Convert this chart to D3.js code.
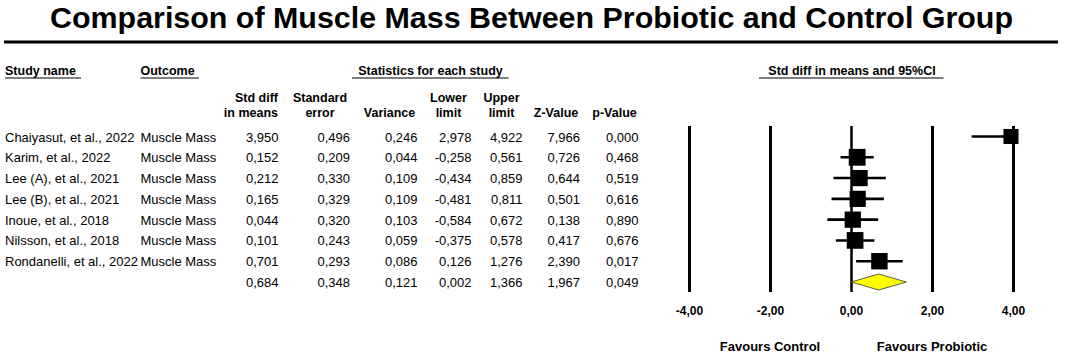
<!DOCTYPE html>
<html>
<head>
<meta charset="utf-8">
<script src="https://cdn.jsdelivr.net/npm/d3@7"></script>
<style>
  body { margin: 0; background: #fff; }
  svg { display: block; font-family: "Liberation Sans", Arial, sans-serif; }
</style>
</head>
<body>
<svg id="forest" width="1065" height="355"></svg>
<script>
// study rows
var studies = ['Chaiyasut, et al., 2022', 'Karim, et al., 2022', 'Lee (A), et al., 2021', 'Lee (B), et al., 2021',
  'Inoue, et al., 2018', 'Nilsson, et al., 2018', 'Rondanelli, et al., 2022']
var outcomes = ['Muscle Mass', 'Muscle Mass', 'Muscle Mass', 'Muscle Mass', 'Muscle Mass', 'Muscle Mass', 'Muscle Mass']
var stdDiff = [3.950, 0.152, 0.212, 0.165, 0.044, 0.101, 0.701]
var stdErr = [0.496, 0.209, 0.330, 0.329, 0.320, 0.243, 0.293]
var variance = [0.246, 0.044, 0.109, 0.109, 0.103, 0.059, 0.086]
var lower = [2.978, -0.258, -0.434, -0.481, -0.584, -0.375, 0.126]
var upper = [4.922, 0.561, 0.859, 0.811, 0.672, 0.578, 1.276]
var zValue = [7.966, 0.726, 0.644, 0.501, 0.138, 0.417, 2.390]
var pValue = [0.000, 0.468, 0.519, 0.616, 0.890, 0.676, 0.017]
var weights = [12.3, 15.3, 14.2, 14.2, 14.3, 15.1, 14.6]
// pooled row
var summary = {stdDiff: 0.684, stdErr: 0.348, variance: 0.121, lower: 0.002, upper: 1.366, zValue: 1.967, pValue: 0.049}
var axisTicks = [-4, -2, 0, 2, 4]

var loc = d3.formatLocale({decimal: ',', thousands: '.', grouping: [3], currency: ['', ''], minus: '-'})
var f3 = loc.format('.3f'), f2 = loc.format('.2f')

var svg = d3.select('#forest')
var ink = '#000'

// title + rule
svg.append('text')
  .attr('x', 531.5).attr('y', 27.5)
  .attr('text-anchor', 'middle')
  .attr('font-size', 29).attr('font-weight', 'bold')
  .attr('textLength', 963).attr('lengthAdjust', 'spacingAndGlyphs')
  .text('Comparison of Muscle Mass Between Probiotic and Control Group')
svg.append('line').attr('x1', 4).attr('x2', 1058).attr('y1', 42).attr('y2', 42)
  .attr('stroke', ink).attr('stroke-width', 3)

// section headers
var heads = [
  {t: 'Study name', x: 5, x1: 5, x2: 81, anchor: 'start'},
  {t: 'Outcome', x: 140.5, x1: 140.5, x2: 199, anchor: 'start'},
  {t: 'Statistics for each study', x: 430.5, x1: 352, x2: 508.5, anchor: 'middle'},
  {t: 'Std diff in means and 95%CI', x: 852, x1: 759, x2: 943.5, anchor: 'middle'}
]
var hg = svg.append('g').attr('font-size', 12.5).attr('font-weight', 'bold')
heads.forEach(function(h) {
  hg.append('text').attr('x', h.x).attr('y', 74.5).attr('text-anchor', h.anchor).text(h.t)
  hg.append('line').attr('x1', h.x1).attr('x2', h.x2).attr('y1', 78).attr('y2', 78)
    .attr('stroke', ink).attr('stroke-width', 1.2)
})

// column headers + value columns
var cols = [
  {h: ['Std diff', 'in means'], hx: 278, anchor: 'end', vals: stdDiff, s: summary.stdDiff, vx: 278.5},
  {h: ['Standard', 'error'], hx: 320, anchor: 'middle', vals: stdErr, s: summary.stdErr, vx: 350},
  {h: ['', 'Variance'], hx: 389.5, anchor: 'middle', vals: variance, s: summary.variance, vx: 417.5},
  {h: ['Lower', 'limit'], hx: 448.5, anchor: 'middle', vals: lower, s: summary.lower, vx: 471.5},
  {h: ['Upper', 'limit'], hx: 501.5, anchor: 'middle', vals: upper, s: summary.upper, vx: 522.5},
  {h: ['', 'Z-Value'], hx: 556, anchor: 'middle', vals: zValue, s: summary.zValue, vx: 580},
  {h: ['', 'p-Value'], hx: 614.5, anchor: 'middle', vals: pValue, s: summary.pValue, vx: 638.5}
]
cols.forEach(function(c) {
  c.h.forEach(function(line, i) {
    if (!line) return
    hg.append('text').attr('x', c.hx).attr('y', 101.5 + i * 15).attr('text-anchor', c.anchor).text(line)
  })
})

// rows
var nRows = studies.length + 1
var y = d3.scalePoint().domain(d3.range(nRows)).range([136.5, 282]).padding(0)
var tg = svg.append('g').attr('font-size', 13)
studies.forEach(function(s, i) {
  tg.append('text').attr('x', 5).attr('y', y(i) + 5).text(s)
  tg.append('text').attr('x', 140.5).attr('y', y(i) + 5).text(outcomes[i])
})
cols.forEach(function(c) {
  c.vals.concat([c.s]).forEach(function(v, i) {
    tg.append('text').attr('x', c.vx).attr('y', y(i) + 5).attr('text-anchor', 'end').text(f3(v))
  })
})

// forest plot
var x = d3.scaleLinear().domain([-4, 4]).range([689, 1013])
var axis = d3.axisBottom(x).tickValues(axisTicks).tickSize(-166).tickPadding(14.5)
  .tickFormat(function(d) { return f2(d) })
var ag = svg.append('g').attr('transform', 'translate(0,292)').call(axis)
ag.select('.domain').remove()
ag.selectAll('.tick line').attr('stroke', ink).attr('stroke-width', function(d) { return d === 0 ? 2.5 : 3 })
ag.selectAll('.tick text').attr('fill', ink).attr('font-size', 12).attr('font-weight', 'bold')
  .attr('font-family', '"Liberation Sans", Arial, sans-serif')

var size = d3.scaleSqrt().domain([0, d3.max(weights)]).range([0, 16.8])
var clip = function(v) { return Math.max(-4, Math.min(4, v)) }
var fg = svg.append('g')
fg.selectAll('line.ci').data(stdDiff).join('line').attr('class', 'ci')
  .attr('x1', function(d, i) { return x(clip(lower[i])) })
  .attr('x2', function(d, i) { return x(clip(upper[i])) })
  .attr('y1', function(d, i) { return y(i) }).attr('y2', function(d, i) { return y(i) })
  .attr('stroke', ink).attr('stroke-width', 2.6)
fg.selectAll('rect.pt').data(stdDiff).join('rect').attr('class', 'pt')
  .attr('x', function(d, i) { return x(d) - size(weights[i]) / 2 })
  .attr('y', function(d, i) { return y(i) - size(weights[i]) / 2 })
  .attr('width', function(d, i) { return size(weights[i]) })
  .attr('height', function(d, i) { return size(weights[i]) })
  .attr('fill', ink)

// pooled diamond
var yd = y(nRows - 1), hh = 8
fg.append('path')
  .attr('d', 'M' + x(summary.lower) + ',' + yd + 'L' + x(summary.stdDiff) + ',' + (yd - hh) +
    'L' + x(summary.upper) + ',' + yd + 'L' + x(summary.stdDiff) + ',' + (yd + hh) + 'Z')
  .attr('fill', '#ffff00').attr('stroke', '#333').attr('stroke-width', 0.8)

// favours labels
var lg = svg.append('g').attr('font-size', 13).attr('font-weight', 'bold').attr('text-anchor', 'middle')
lg.append('text').attr('x', x(-2)).attr('y', 350.5).text('Favours Control')
lg.append('text').attr('x', x(2)).attr('y', 350.5).text('Favours Probiotic')
</script>
</body>
</html>
